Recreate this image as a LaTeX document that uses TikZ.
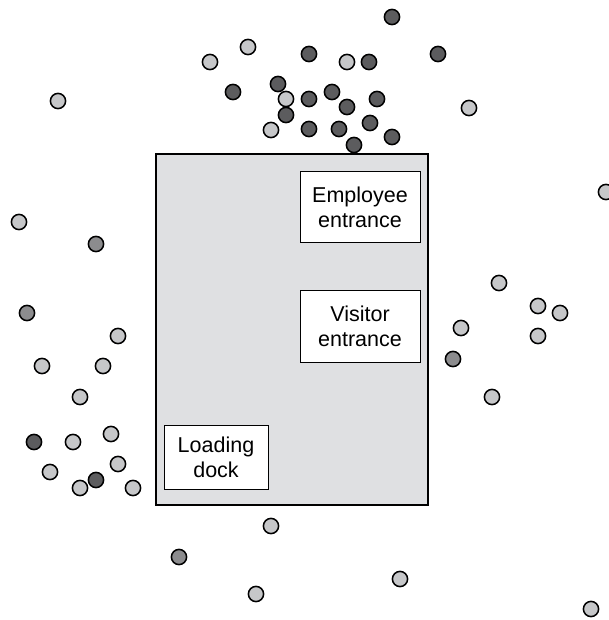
\documentclass[tikz,border=0pt]{standalone}
\usepackage{fontspec}
\setmainfont{Liberation Sans}
\usepackage{xcolor}
\definecolor{liteGray}{HTML}{C6C7C9}
\definecolor{midGray}{HTML}{8C8C8E}
\definecolor{darkGray}{HTML}{5C5C5E}
\definecolor{floorGray}{HTML}{DFE0E2}
\usetikzlibrary{positioning}

\begin{document}
\begin{tikzpicture}[x=1pt,y=-1pt,
  person/.style={circle,draw=black,line width=1.5pt,inner sep=0pt,minimum size=15.2pt},
  lite/.style={person,fill=liteGray},
  mid/.style={person,fill=midGray},
  dark/.style={person,fill=darkGray},
  door/.style={draw=black,fill=white,line width=1pt,align=center,
    font=\fontsize{21.5}{25}\selectfont,inner sep=0pt}]
  \useasboundingbox (0,0) rectangle (608,620);
  % building
  \draw[fill=floorGray,line width=1.3pt] (156,154) rectangle (428,505);
  \node[door,minimum width=120pt,minimum height=71pt] (emp) at (360,207) {Employee\\entrance};
  \node[door,minimum width=120pt,minimum height=72pt] (vis) at (360,326) {Visitor\\entrance};
  \node[door,minimum width=104pt,minimum height=64pt] (dock) at (216,457.5) {Loading\\dock};
  % people
  \foreach \x/\y [count=\i] in {392/17,309/54,369/62,438/54,233/92,278/84,309/99,
      332/92,347/107,377/99,286/115,309/129,339/129,370/123,392/137,354/145,34/442}
    \node[dark] (d\i) at (\x,\y) {};
  \foreach \x/\y [count=\i] in {248/47,210/62,347/62,58/101,286/99,469/108,271/130,
      19/222,606/192,118/336,42/366,103/366,80/397,73/442,111/434,50/472,118/464,
      80/488,133/488,499/283,538/306,560/313,461/328,538/336,492/397,271/526,
      400/579,256/594,591/609}
    \node[lite] (l\i) at (\x,\y) {};
  \foreach \x/\y [count=\i] in {96/244,27/313,453/359,179/557}
    \node[mid] (m\i) at (\x,\y) {};
  \node[dark] (d18) at (96,480) {};
\end{tikzpicture}
\end{document}
